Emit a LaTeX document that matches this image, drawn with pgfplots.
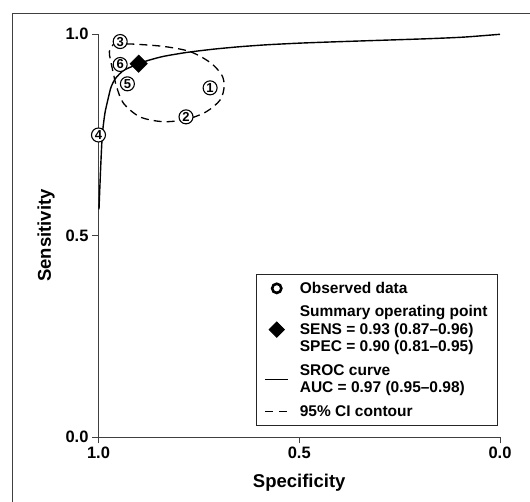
\documentclass[border=0pt]{standalone}
\usepackage{fontspec}
\setmainfont{Liberation Sans}
\usepackage{pgfplots}
\pgfplotsset{compat=1.18}

% SROC curve (specificity, sensitivity)
\pgfplotstableread{
spec sens
0.9988 0.565
0.9945 0.671
0.9905 0.750
0.984 0.804
0.976 0.840
0.969 0.868
0.958 0.890
0.938 0.910
0.909 0.923
0.880 0.934
0.839 0.945
0.780 0.955
0.714 0.963
0.650 0.969
0.580 0.974
0.500 0.978
0.420 0.981
0.300 0.985
0.180 0.989
0.090 0.993
0.000 1.000
}\sroc

% 95% confidence contour
\pgfplotstableread{
spec sens
0.963 0.975
0.922 0.976
0.839 0.970
0.772 0.957
0.722 0.930
0.693 0.899
0.687 0.870
0.697 0.837
0.731 0.808
0.780 0.789
0.839 0.783
0.897 0.795
0.938 0.829
0.955 0.870
0.963 0.903
0.970 0.936
0.973 0.957
0.963 0.975
}\contour

% observed studies
\pgfplotstableread{
spec sens label
0.722 0.867 1
0.782 0.795 2
0.946 0.982 3
1.000 0.750 4
0.928 0.877 5
0.946 0.925 6
}\studies

\begin{document}
\begin{tikzpicture}
\begin{axis}[
  at={(0pt,0pt)}, anchor=south west,
  scale only axis, width=401.5pt, height=402.7pt,
  xmin=0, xmax=1, ymin=0, ymax=1, x dir=reverse,
  axis x line=bottom, axis y line=left,
  axis line style={-, draw=black!75, line width=0.9pt},
  xtick={0,0.5,1}, ytick={0,0.5,1},
  tick style={draw=black!75, line width=0.9pt},
  tick align=outside, major tick length=6.5pt,
  /pgf/number format/assume math mode=true,
  /pgf/number format/fixed, /pgf/number format/fixed zerofill,
  /pgf/number format/precision=1,
  tick label style={font=\fontsize{16.5}{18}\selectfont\bfseries},
  xlabel={Specificity}, ylabel={Sensitivity},
  every axis x label/.style={at={(axis description cs:0.5,-0.1142)}, anchor=center,
    font=\fontsize{18.5}{20}\selectfont\bfseries},
  every axis y label/.style={at={(axis description cs:-0.1308,0.5)}, anchor=center,
    rotate=90, font=\fontsize{18.5}{20}\selectfont\bfseries},
  clip=false,
  legend image code/.code={\draw[mark repeat=2,mark phase=2,#1]
    plot coordinates {(0pt,0pt) (11.5pt,0pt) (23pt,0pt)};},
  legend style={at={(0.995,0.0273)}, anchor=south east, draw=black!85,
    line width=0.8pt, fill=white,
    font=\fontsize{15.5}{17.5}\selectfont\bfseries,
    cells={anchor=west, align=left}, row sep=7pt,
    inner xsep=8pt, inner ysep=6pt,
    /tikz/every odd column/.append style={column sep=9pt,
      nodes={anchor=center}}},
]
\addlegendimage{only marks, mark=o, mark size=4.6pt, line width=2.6pt, black}
\addlegendentry{Observed data}
\addlegendimage{only marks, mark=square*, mark size=5.4pt, mark options={rotate=45}, black}
\addlegendentry{Summary operating point\\SENS = 0.93 (0.87--0.96)\\SPEC = 0.90 (0.81--0.95)}
\addlegendimage{black, line width=1.2pt, solid}
\addlegendentry{SROC curve\\AUC = 0.97 (0.95--0.98)}
\addlegendimage{black, line width=1.2pt, dash pattern=on 8pt off 6pt}
\addlegendentry{95\% CI contour}

\addplot[black, line width=1.3pt, dash pattern=on 8pt off 5pt, smooth, tension=0.5,
  forget plot] table[x=spec, y=sens] {\contour};
\addplot[black, line width=1.4pt, smooth, tension=0.4, forget plot]
  table[x=spec, y=sens] {\sroc};
\addplot[only marks, mark=square*, mark size=6.2pt, mark options={rotate=45, fill=black},
  forget plot] coordinates {(0.90,0.927)};
\addplot[only marks, mark=none, forget plot, point meta=explicit symbolic,
  nodes near coords,
  every node near coord/.append style={circle, draw=black, fill=white, line width=1.1pt,
    inner sep=0pt, minimum size=14pt, font=\fontsize{13}{13}\selectfont\bfseries,
    anchor=center}]
  table[x=spec, y=sens, meta=label] {\studies};
\end{axis}
\draw[black!75, line width=0.9pt] (-86.5pt,-65pt) -- (-86.5pt,424pt) -- (431.5pt,424pt);
\pgfresetboundingbox
\path[use as bounding box] (-98.5pt,-65pt) rectangle (431.5pt,437pt);
\end{tikzpicture}
\end{document}
